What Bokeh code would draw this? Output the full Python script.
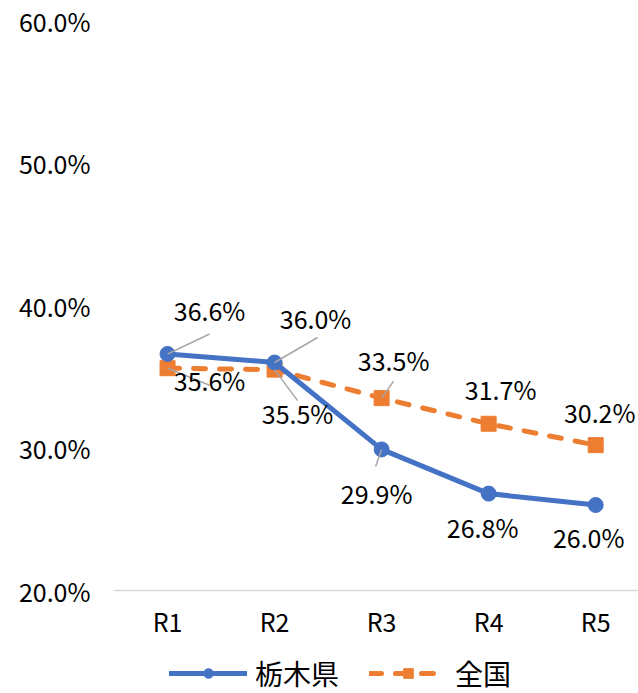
from bokeh.plotting import figure
from bokeh.models import (ColumnDataSource, Range1d, PrintfTickFormatter, FixedTicker,
                          Legend, LegendItem, LinearAxis)
from bokeh.core.properties import value
from bokeh.embed import file_html
from bokeh.resources import INLINE

categories = ["R1", "R2", "R3", "R4", "R5"]
tochigi = [36.6, 36.0, 29.9, 26.8, 26.0]
zenkoku = [35.6, 35.5, 33.5, 31.7, 30.2]
series_names = ["栃木県", "全国"]
y_ticks = [20, 30, 40, 50, 60]
y_min, y_max = 20, 60

# label offsets in pixels (screen, y down)
t_off = [(42, -44), (41, -45), (-5, 44), (-6, 33), (-7, 32)]
z_off = [(42, 12), (23, 43), (12, -38), (12, -35), (4, -33)]
# leader line ends in pixels from point (None = no leader)
t_lead = [(42, -20), (43, -25), (-6, 17), None, None]
z_lead = [(42, 17), (23, 31), (12, -17), None, None]

FONT = "Noto Sans CJK JP"
BLUE = "#4472C4"
ORANGE = "#ED7D31"
W, H = 638, 693
LEFT, TOP = 113, 20
AXIS_PX = 570          # pixel height from y_min to y_max
BELOW_PX = H - TOP - AXIS_PX   # room below the x axis (labels + legend)

xs = list(range(len(categories)))
x_range = Range1d(-0.505, 4.4)
px_per_y = AXIS_PX / (y_max - y_min)
y_range = Range1d(y_min - BELOW_PX / px_per_y, y_max)

p = figure(width=W, height=H, output_backend="svg", toolbar_location=None,
           x_range=x_range, y_range=y_range, x_axis_location=None,
           min_border_left=LEFT, min_border_top=TOP, min_border_bottom=0,
           min_border_right=0)
p.outline_line_color = None
p.background_fill_color = "white"
p.border_fill_color = "white"
p.xgrid.visible = False
p.ygrid.visible = False

px_per_x = (W - LEFT) / (x_range.end - x_range.start)

# category axis drawn at y = y_min inside the frame
xaxis = LinearAxis(fixed_location=y_min, ticker=FixedTicker(ticks=xs))
xaxis.major_label_overrides = {i: c for i, c in enumerate(categories)}
xaxis.major_tick_line_color = None
xaxis.major_tick_out = 0
xaxis.minor_tick_line_color = None
xaxis.minor_tick_out = 0
xaxis.axis_line_color = "#D9D9D9"
xaxis.axis_line_width = 1.5
xaxis.major_label_text_font = FONT
xaxis.major_label_text_font_size = "25px"
xaxis.major_label_text_color = "black"
xaxis.major_label_standoff = 12
p.add_layout(xaxis, "below")

p.yaxis.ticker = FixedTicker(ticks=y_ticks)
p.yaxis.formatter = PrintfTickFormatter(format="%.1f%%")
p.yaxis.axis_line_color = None
p.yaxis.major_tick_line_color = None
p.yaxis.major_tick_out = 0
p.yaxis.minor_tick_line_color = None
p.yaxis.minor_tick_out = 0
p.yaxis.major_label_text_font = FONT
p.yaxis.major_label_text_font_size = "25px"
p.yaxis.major_label_text_color = "black"
p.yaxis.major_label_standoff = 23

src_t = ColumnDataSource(dict(x=xs, y=tochigi))
src_z = ColumnDataSource(dict(x=xs, y=zenkoku))

lz = p.line('x', 'y', source=src_z, line_color=ORANGE, line_width=5,
            line_dash="12 14", line_cap="round")
mz = p.scatter('x', 'y', source=src_z, marker="square", size=15, fill_color=ORANGE,
               line_color=ORANGE)
lt = p.line('x', 'y', source=src_t, line_color=BLUE, line_width=5, line_cap="round")
mt = p.scatter('x', 'y', source=src_t, marker="circle", size=15, fill_color=BLUE,
               line_color=BLUE)

# leader lines
x0, y0, x1, y1 = [], [], [], []
for vals, leads in ((tochigi, t_lead), (zenkoku, z_lead)):
    for i, (v, ld) in enumerate(zip(vals, leads)):
        if ld is None:
            continue
        x0.append(xs[i]); y0.append(v)
        x1.append(xs[i] + ld[0] / px_per_x)
        y1.append(v - ld[1] / px_per_y)
p.segment(x0=x0, y0=y0, x1=x1, y1=y1, line_color="#A6A6A6", line_width=1.5)

# data labels
lx, ly, lt_, dx, dy = [], [], [], [], []
for vals, offs in ((tochigi, t_off), (zenkoku, z_off)):
    for i, (v, o) in enumerate(zip(vals, offs)):
        lx.append(xs[i]); ly.append(v); lt_.append(f"{v:.1f}%")
        dx.append(o[0]); dy.append(o[1])
src_l = ColumnDataSource(dict(x=lx, y=ly, text=lt_, dx=dx, dy=dy))
p.text('x', 'y', text='text', source=src_l, x_offset='dx', y_offset='dy',
       text_align="center", text_baseline="middle", text_font=value(FONT),
       text_font_size="25px", text_color="black")

legend = Legend(items=[LegendItem(label=series_names[0], renderers=[lt, mt]),
                       LegendItem(label=series_names[1], renderers=[lz, mz])],
                orientation="horizontal", location=(56, 0))
legend.label_text_font = FONT
legend.label_text_font_size = "28px"
legend.label_text_color = "black"
legend.glyph_width = 78
legend.glyph_height = 24
legend.label_height = 24
legend.label_standoff = 8
legend.spacing = 30
legend.padding = 0
legend.margin = 0
legend.border_line_color = None
legend.background_fill_alpha = 0
p.add_layout(legend, "center")

open("out.html", "w").write(file_html(p, INLINE))
